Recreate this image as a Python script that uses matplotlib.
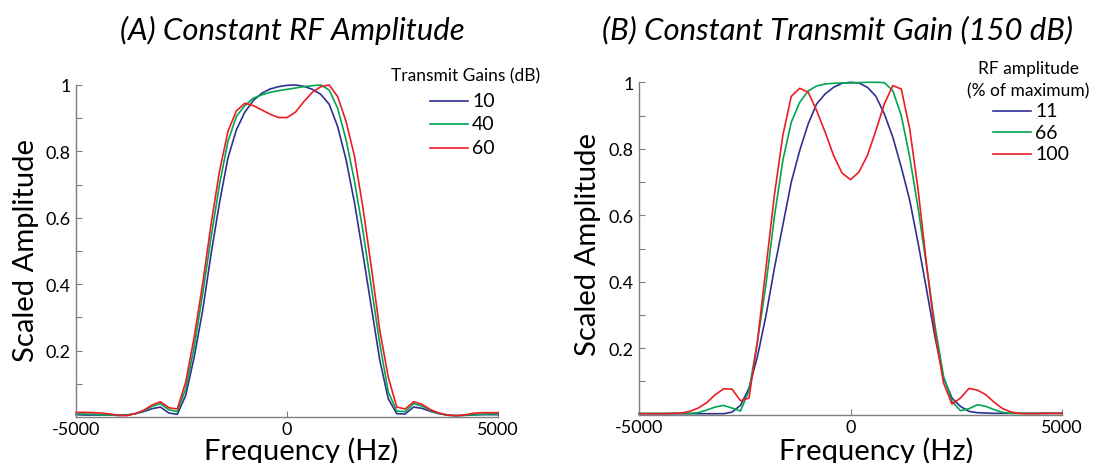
import numpy as np
import matplotlib
matplotlib.use("Agg")
import matplotlib.pyplot as plt
from matplotlib.lines import Line2D
from matplotlib.ticker import FixedLocator, FuncFormatter

plt.rcParams['font.family'] = ['Lato', 'DejaVu Sans']

# ---------------- data ----------------
freq = list(range(-5000, 5001, 200))  # Hz

# Panel A: constant RF amplitude, transmit gains (dB)
gain_labels = ["10", "40", "60"]
a_gain10 = [0.007, 0.006, 0.006, 0.006, 0.006, 0.005, 0.006, 0.010, 0.016, 0.025,
            0.030, 0.012, 0.008, 0.065, 0.18, 0.32, 0.49, 0.645, 0.78, 0.865,
            0.918, 0.953, 0.975, 0.988, 0.995, 0.999, 1.0, 0.996, 0.987, 0.972,
            0.942, 0.875, 0.775, 0.645, 0.49, 0.33, 0.17, 0.055, 0.01, 0.009,
            0.030, 0.026, 0.017, 0.010, 0.006, 0.004, 0.005, 0.006, 0.007, 0.007, 0.007]
a_gain40 = [0.009, 0.009, 0.008, 0.007, 0.006, 0.005, 0.005, 0.010, 0.018, 0.032,
            0.040, 0.022, 0.016, 0.085, 0.21, 0.37, 0.54, 0.70, 0.83, 0.905,
            0.938, 0.96, 0.97, 0.978, 0.983, 0.987, 0.991, 0.995, 0.998, 1.0,
            0.985, 0.93, 0.835, 0.71, 0.56, 0.39, 0.22, 0.075, 0.018, 0.016,
            0.040, 0.033, 0.020, 0.011, 0.005, 0.004, 0.005, 0.007, 0.008, 0.009, 0.009]
a_gain60 = [0.014, 0.014, 0.013, 0.012, 0.009, 0.005, 0.004, 0.010, 0.020, 0.036,
            0.046, 0.028, 0.024, 0.105, 0.24, 0.40, 0.58, 0.74, 0.86, 0.922,
            0.945, 0.938, 0.925, 0.912, 0.902, 0.902, 0.918, 0.95, 0.978, 0.995,
            1.0, 0.965, 0.89, 0.785, 0.63, 0.45, 0.26, 0.12, 0.03, 0.024,
            0.046, 0.038, 0.022, 0.012, 0.006, 0.004, 0.006, 0.011, 0.013, 0.013, 0.013]

# Panel B: constant transmit gain (150 dB), RF amplitude (% of maximum)
rf_labels = ["11", "66", "100"]
b_rf11 = [0.003, 0.003, 0.003, 0.003, 0.003, 0.003, 0.003, 0.003, 0.003, 0.003,
          0.003, 0.008, 0.028, 0.08, 0.175, 0.297, 0.44, 0.57, 0.70, 0.795,
          0.875, 0.935, 0.965, 0.985, 0.997, 1.0, 0.998, 0.985, 0.958, 0.905,
          0.835, 0.745, 0.645, 0.515, 0.375, 0.232, 0.11, 0.05, 0.025, 0.01,
          0.006, 0.005, 0.004, 0.004, 0.004, 0.004, 0.004, 0.004, 0.004, 0.004, 0.004]
b_rf66 = [0.004, 0.004, 0.004, 0.004, 0.004, 0.004, 0.004, 0.006, 0.014, 0.023,
          0.028, 0.020, 0.011, 0.073, 0.22, 0.39, 0.595, 0.765, 0.88, 0.94,
          0.974, 0.989, 0.995, 0.997, 0.998, 0.998, 0.999, 1.0, 1.0, 0.999,
          0.975, 0.90, 0.775, 0.62, 0.445, 0.265, 0.115, 0.04, 0.012, 0.018,
          0.030, 0.025, 0.015, 0.007, 0.004, 0.004, 0.004, 0.004, 0.004, 0.004, 0.004]
b_rf100 = [0.003, 0.003, 0.003, 0.003, 0.004, 0.005, 0.010, 0.020, 0.036, 0.060,
           0.078, 0.077, 0.042, 0.05, 0.22, 0.44, 0.66, 0.84, 0.958, 0.982,
           0.97, 0.915, 0.85, 0.78, 0.727, 0.707, 0.73, 0.78, 0.855, 0.935,
           0.99, 0.98, 0.86, 0.675, 0.45, 0.245, 0.095, 0.032, 0.05, 0.079,
           0.074, 0.060, 0.037, 0.018, 0.008, 0.004, 0.003, 0.003, 0.004, 0.004, 0.004]

colors = ["#2E3192", "#00A651", "#ED1C24"]

W, H = 1094, 464
fig = plt.figure(figsize=(W / 100, H / 100), dpi=100)


def fx(px):
    return px / W


def fy(py):
    return 1 - py / H


def px_axes(x0, x1, ytop, ybot):
    return fig.add_axes([x0 / W, 1 - ybot / H, (x1 - x0) / W, (ybot - ytop) / H])


def style(ax):
    ax.set_xlim(-5000, 5000)
    ax.set_ylim(0, 1)
    for s in ["top", "right"]:
        ax.spines[s].set_visible(False)
    for s in ["left", "bottom"]:
        ax.spines[s].set_color("#7f7f7f")
        ax.spines[s].set_linewidth(1.0)
    ax.xaxis.set_major_locator(FixedLocator([-5000, 0, 5000]))
    ax.yaxis.set_major_locator(FixedLocator([0.2, 0.4, 0.6, 0.8, 1.0]))
    ax.yaxis.set_minor_locator(FixedLocator([0.1, 0.3, 0.5, 0.7, 0.9]))
    ax.yaxis.set_major_formatter(FuncFormatter(lambda v, p: "1" if abs(v - 1) < 1e-9 else f"{v:.1f}"))
    ax.xaxis.set_major_formatter(FuncFormatter(lambda v, p: f"{int(v)}"))
    ax.tick_params(axis="both", which="both", direction="in", color="#7f7f7f",
                   length=4, width=0.8, labelsize=13)
    ax.tick_params(axis="x", pad=3)
    ax.tick_params(axis="y", pad=4)


axA = px_axes(76, 498, 86, 418)
axB = px_axes(639, 1062, 83.3, 415.7)
for ax in (axA, axB):
    style(ax)

for vals, c in zip([a_gain10, a_gain40, a_gain60], colors):
    axA.plot(freq, vals, color=c, lw=1.2, clip_on=False)
for vals, c in zip([b_rf11, b_rf66, b_rf100], colors):
    axB.plot(freq, vals, color=c, lw=1.2, clip_on=False)


def draw_legend(title_lines, title_ys, title_cx, labels, ys, lx0, lx1):
    for t, y in zip(title_lines, title_ys):
        fig.text(fx(title_cx), fy(y), t, ha="center", va="center", fontsize=12.5)
    for lab, y, c in zip(labels, ys, colors):
        fig.add_artist(Line2D([fx(lx0), fx(lx1)], [fy(y), fy(y)], color=c, lw=1.2))
        fig.text(fx(lx1 + 4), fy(y), lab, ha="left", va="center", fontsize=14)


draw_legend(["Transmit Gains (dB)"], [76], 466, gain_labels, [101.5, 125, 148.5], 430, 468)
draw_legend(["RF amplitude", "(% of maximum)"], [69, 91.5], 1028, rf_labels,
            [111.5, 133.3, 155], 993, 1031)

# titles and axis labels
fig.text(fx(292), fy(30), "(A) Constant RF Amplitude", ha="center", va="center",
         fontsize=22.4, style="italic")
fig.text(fx(838), fy(30), "(B) Constant Transmit Gain (150 dB)", ha="center", va="center",
         fontsize=22.4, style="italic")
fig.text(fx(26), fy(251), "Scaled Amplitude", ha="center", va="center",
         rotation=90, fontsize=21)
fig.text(fx(588), fy(245), "Scaled Amplitude", ha="center", va="center",
         rotation=90, fontsize=21)
fig.text(fx(301), fy(460), "Frequency (Hz)", ha="center", va="baseline", fontsize=21)
fig.text(fx(876), fy(460), "Frequency (Hz)", ha="center", va="baseline", fontsize=21)

fig.savefig("out.png", dpi=100)
